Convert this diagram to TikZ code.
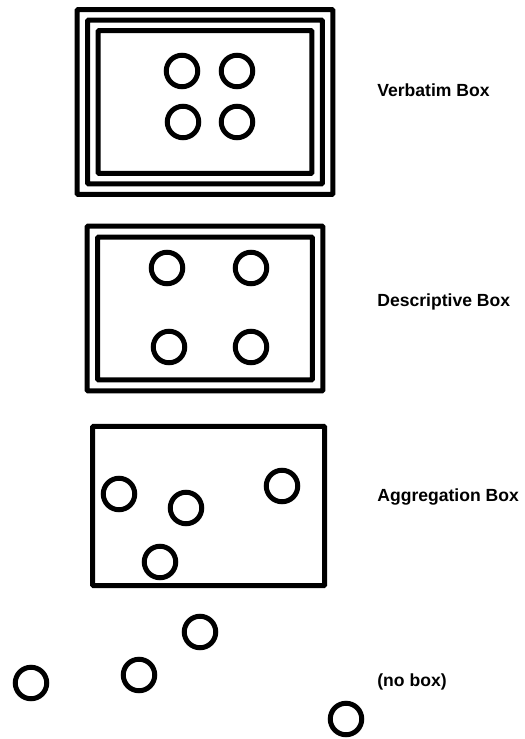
\documentclass[tikz,border=0pt]{standalone}
\usepackage{fontspec}
\setmainfont{Liberation Sans}
\usepackage{tikz}

\begin{document}
\begin{tikzpicture}[
        x=0.02cm, y=-0.02cm,
        frame/.style={rectangle, draw=black, line width=0.1cm, inner sep=0pt, rounded corners=0.6pt},
        ball/.style={circle, draw=black, line width=0.1cm, minimum size=0.63cm, inner sep=0pt},
        caption/.style={anchor=base west, inner sep=0pt, font=\fontsize{10}{12}\selectfont\bfseries}
    ]
        \useasboundingbox (0,0) rectangle (524,739);

        % verbatim box: three frames
        \node[frame, minimum width=5.12cm, minimum height=3.70cm] (verbOuter) at (205,102) {};
        \node[frame, minimum width=4.70cm, minimum height=3.28cm] (verbMid) at (205,102) {};
        \node[frame, minimum width=4.28cm, minimum height=2.86cm] (verbInner) at (205,102) {};
        \node[ball] (v1) at (182,71) {};
        \node[ball] (v2) at (237,71) {};
        \node[ball] (v3) at (183,122) {};
        \node[ball] (v4) at (237,122) {};
        \node[caption] (verbLabel) at (377,97) {Verbatim Box};

        % descriptive box: two frames
        \node[frame, minimum width=4.72cm, minimum height=3.30cm] (descOuter) at (205,308.5) {};
        \node[frame, minimum width=4.30cm, minimum height=2.86cm] (descInner) at (205,308.5) {};
        \node[ball] (d1) at (167,268) {};
        \node[ball] (d2) at (251,268) {};
        \node[ball] (d3) at (169,347) {};
        \node[ball] (d4) at (251,347) {};
        \node[caption] (descLabel) at (377,307) {Descriptive Box};

        % aggregation box: one frame
        \node[frame, minimum width=4.64cm, minimum height=3.19cm] (aggBox) at (208.6,506) {};
        \node[ball] (a1) at (119,494) {};
        \node[ball] (a2) at (186,508) {};
        \node[ball] (a3) at (282,486) {};
        \node[ball] (a4) at (160,562) {};
        \node[caption] (aggLabel) at (377,501) {Aggregation Box};

        % loose items
        \node[ball] (n1) at (31,683) {};
        \node[ball] (n2) at (139,675) {};
        \node[ball] (n3) at (200,632) {};
        \node[ball] (n4) at (346,719) {};
        \node[caption] (noLabel) at (377,686) {(no box)};
    \end{tikzpicture}
\end{document}
